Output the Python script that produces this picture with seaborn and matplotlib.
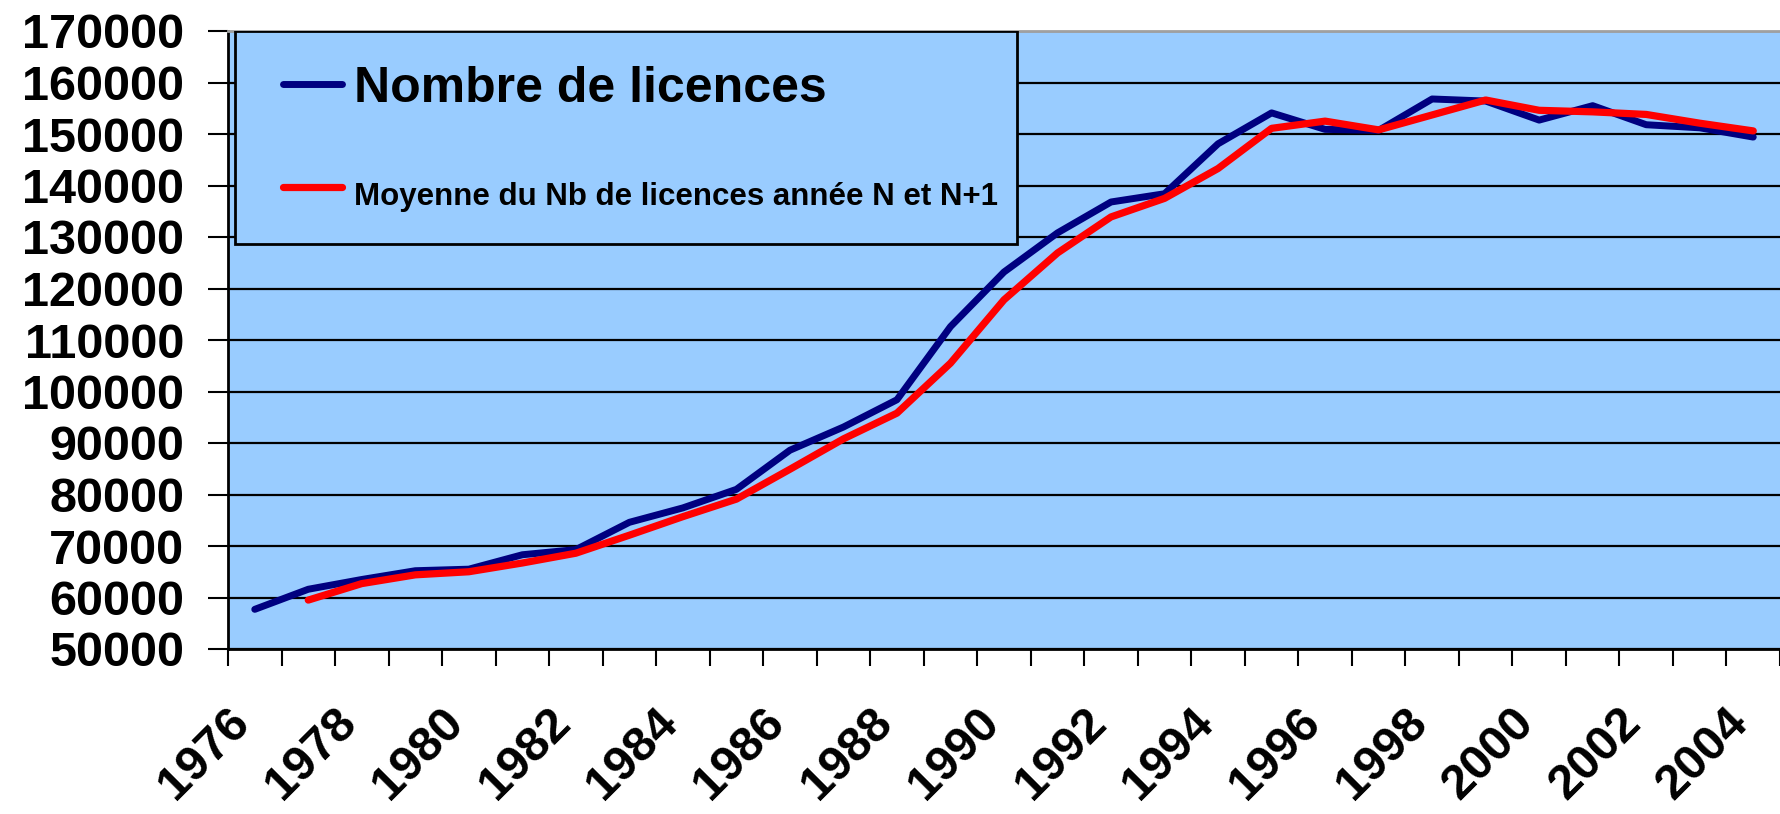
import numpy as np
import pandas as pd
import matplotlib.pyplot as plt
import matplotlib.transforms as mtransforms
from matplotlib.patches import Rectangle
import seaborn as sns

# ── Données ──────────────────────────────────────────────────────────────
annees = list(range(1976, 2005))
licences = [57700, 61600, 63500, 65200, 65500, 68300, 69300, 74600, 77400,
            81000, 88600, 93100, 98400, 112600, 123200, 130800, 136800,
            138400, 148100, 154100, 150900, 150700, 156800, 156400, 152700,
            155500, 151800, 151200, 149400]
moyenne = [np.nan, 59500, 62700, 64400, 65000, 66700, 68600, 72100, 75700,
           79100, 84900, 90800, 95800, 105500, 117800, 126900, 133900,
           137500, 143300, 151100, 152500, 150800, 153700, 156600, 154600,
           154300, 153800, 152100, 150600]
lab_licences = 'Nombre de licences'
lab_moyenne = 'Moyenne du Nb de licences année N et N+1'

df = pd.DataFrame({'annee': annees, 'licences': licences, 'moyenne': moyenne})
df['pos'] = np.arange(len(df))

sns.set_style('white')
plt.rcParams['font.family'] = ['Liberation Sans', 'DejaVu Sans']
plt.rcParams['font.weight'] = 'bold'
for cle in ['text.color', 'axes.labelcolor', 'xtick.color', 'ytick.color']:
    plt.rcParams[cle] = 'black'

fig = plt.figure(figsize=(17.8, 8.14), dpi=100)
ax = fig.add_axes([228 / 1780, (814 - 649) / 814, 1552 / 1780, 618 / 814])
ax.set_facecolor('#99CCFF')

sns.lineplot(data=df, x='pos', y='licences', color='#000080', lw=5,
             label=lab_licences, ax=ax, solid_capstyle='round')
sns.lineplot(data=df, x='pos', y='moyenne', color='#FF0000', lw=5.2,
             label=lab_moyenne, ax=ax, solid_capstyle='round')
ax.set(xlabel='', ylabel='')

# ── Axes ────────────────────────────────────────────────────────────────
ax.set_xlim(-0.5, 28.29)
ax.set_ylim(50000, 170000)
ax.set_yticks(range(50000, 170001, 10000))
ax.set_yticklabels([str(v) for v in range(50000, 170001, 10000)])
ax.tick_params(axis='y', length=14.4, width=1.5, pad=17, labelsize=35,
               left=True, direction='out')
ax.yaxis.grid(True, color='black', lw=1.6)
ax.set_axisbelow(True)

ax.set_xticks(df['pos'][::2])
ax.set_xticklabels([str(a) for a in annees[::2]], rotation=45, ha='right',
                   va='center', rotation_mode='anchor')
ax.set_xticks(np.arange(-0.5, len(df), 1), minor=True)
ax.tick_params(axis='x', which='major', length=0, pad=48, labelsize=35)
ax.tick_params(axis='x', which='minor', length=12, width=1.5, bottom=True,
               direction='out')
decal = mtransforms.ScaledTranslation(-0.12, 0, fig.dpi_scale_trans)
for lab in ax.get_xticklabels():
    lab.set_transform(lab.get_transform() + decal)

for cote in ['left', 'bottom']:
    ax.spines[cote].set_color('black')
    ax.spines[cote].set_linewidth(2)
ax.spines['top'].set_color('#A0A0A0')
ax.spines['top'].set_linewidth(2)
ax.spines['right'].set_visible(False)

# ── Légende ─────────────────────────────────────────────────────────────
cadre = Rectangle((0.0045, 0.6553), 0.5039, 0.3447, transform=ax.transAxes,
                  facecolor='#99CCFF', edgecolor='black', lw=2, zorder=4)
ax.add_patch(cadre)
handles, labels = ax.get_legend_handles_labels()
leg = ax.legend(handles, labels, loc='upper left',
                bbox_to_anchor=(0.0354, 0.9433), frameon=False,
                prop={'size': 22.5, 'weight': 'bold'}, handlelength=1.9,
                handletextpad=0.36, labelspacing=2.25, borderpad=0,
                borderaxespad=0)
leg.set_zorder(5)
leg.get_texts()[0].set_fontsize(36)
# traits de légende un peu au-dessus du centre du texte, comme dans Excel
for trait in leg.get_lines():
    trait.set_ydata(np.asarray(trait.get_ydata()) + 5)

plt.savefig('out.png', dpi=100)
